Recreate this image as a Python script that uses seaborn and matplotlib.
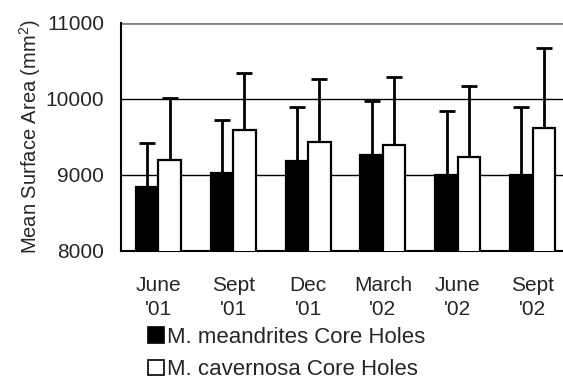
import numpy as np
import pandas as pd
import matplotlib
matplotlib.use("Agg")
import matplotlib.pyplot as plt
import seaborn as sns
from matplotlib.patches import Patch
from matplotlib.ticker import FixedLocator

# -----------------------------
# Data
# -----------------------------
periods = ["June\n'01", "Sept\n'01", "Dec\n'01", "March\n'02", "June\n'02", "Sept\n'02"]
species = ["M. meandrites Core Holes", "M. cavernosa Core Holes"]

meandrites_mean = [8845, 9030, 9185, 9265, 9000, 9000]
meandrites_err = [570, 690, 710, 710, 840, 890]

cavernosa_mean = [9195, 9585, 9430, 9390, 9240, 9610]
cavernosa_err = [810, 750, 830, 890, 930, 1060]

df = pd.DataFrame({
    "Period": periods * 2,
    "Species": [species[0]] * 6 + [species[1]] * 6,
    "Area": meandrites_mean + cavernosa_mean,
    "Err": meandrites_err + cavernosa_err,
})

# -----------------------------
# Theme
# -----------------------------
sns.set_style("white")
plt.rcParams["font.family"] = ["Liberation Sans", "DejaVu Sans"]
plt.rcParams["mathtext.fontset"] = "custom"
plt.rcParams["mathtext.rm"] = "Liberation Sans"

fig = plt.figure(figsize=(5.63, 3.83), dpi=100)
ax = fig.add_axes([121 / 563, 1 - 251 / 383, 449 / 563, (251 - 22.5) / 383])

sns.barplot(
    data=df,
    x="Period",
    y="Area",
    hue="Species",
    palette=["black", "white"],
    edgecolor="black",
    linewidth=1.6,
    width=0.6,
    gap=0,
    errorbar=None,
    legend=False,
    ax=ax,
    zorder=3,
)

# upward-only error bars, placed on each bar centre
for bars, sp in zip(ax.containers, species):
    sub = df[df["Species"] == sp]
    xs = [b.get_x() + b.get_width() / 2 for b in bars]
    ax.errorbar(
        xs,
        sub["Area"].values,
        yerr=[np.zeros(len(sub)), sub["Err"].values],
        fmt="none",
        ecolor="black",
        elinewidth=2,
        capsize=5.5,
        capthick=2,
        zorder=2,
    )

ax.set_ylim(8000, 11000)
ax.set_xlim(-0.5, 5.5)
ax.set_yticks([8000, 9000, 10000, 11000])
ax.set_yticklabels(["8000", "9000", "10000", "11000"])

# gridlines
for v in [9000, 10000]:
    ax.axhline(v, color="black", linewidth=1, zorder=1)
ax.axhline(11000, color="#808080", linewidth=2, zorder=1)

ax.xaxis.set_minor_locator(FixedLocator(np.arange(-0.5, 6, 1)))
ax.tick_params(axis="x", which="major", length=0, pad=18, labelsize=15)
ax.tick_params(axis="x", which="minor", length=5, width=1, color="black", direction="out")
ax.tick_params(axis="y", length=5, width=1, color="black", direction="out", labelsize=15, pad=7)
for lab in ax.get_xticklabels():
    lab.set_linespacing(1.35)

for s in ["top", "right"]:
    ax.spines[s].set_visible(False)
for s in ["left", "bottom"]:
    ax.spines[s].set_color("black")
    ax.spines[s].set_linewidth(1.5)

ax.set_xlabel("")
ax.set_ylabel("Mean Surface Area (mm$^2$)", fontsize=14.5, labelpad=2)

handles = [
    Patch(facecolor="black", edgecolor="black", linewidth=1.2),
    Patch(facecolor="white", edgecolor="black", linewidth=1.2),
]
fig.legend(
    handles,
    species,
    loc="upper left",
    bbox_to_anchor=(148 / 563, 1 - 327 / 383),
    frameon=False,
    fontsize=16,
    handlelength=0.7,
    handleheight=0.7,
    handletextpad=0.15,
    labelspacing=0.5,
    borderpad=0,
    borderaxespad=0,
)

fig.savefig("out.png", dpi=100)
plt.close(fig)
